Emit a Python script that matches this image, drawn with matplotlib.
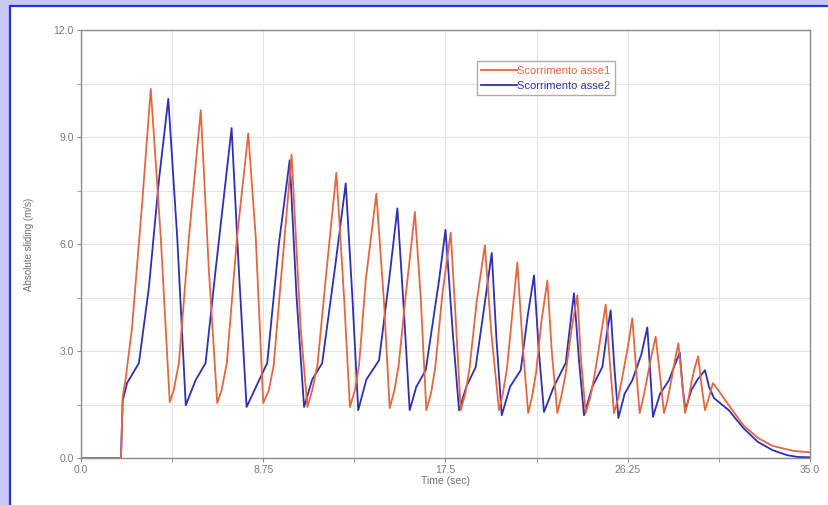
import matplotlib
matplotlib.use("Agg")
import matplotlib.pyplot as plt
from matplotlib.patches import Rectangle
from matplotlib.ticker import MultipleLocator, FixedLocator

# ---- data ----
t_asse1 = [0, 1.92, 2.0, 2.14, 2.45, 2.93, 3.35, 3.83, 4.26,
           4.45, 4.7, 5.18, 5.75, 6.14, 6.54,
           6.75, 7.0, 7.49, 8.03, 8.39, 8.75,
           9.02, 9.25, 9.6, 10.11, 10.55, 10.87,
           11.1, 11.35, 11.82, 12.26, 12.63, 12.91,
           13.15, 13.35, 13.67, 14.18, 14.55, 14.82,
           15.05, 15.25, 15.58, 16.03, 16.31, 16.58,
           16.8, 17.0, 17.35, 17.75, 18.0, 18.23,
           18.45, 18.65, 19.0, 19.39, 19.7, 20.07,
           20.25, 20.45, 20.7, 20.95, 21.2, 21.47,
           21.65, 21.85, 22.1, 22.39, 22.6, 22.87,
           23.05, 23.25, 23.55, 23.83, 24.0, 24.23,
           24.45, 24.65, 24.95, 25.19, 25.4, 25.59,
           25.8, 26.0, 26.25, 26.47, 26.65, 26.82,
           27.0, 27.2, 27.4, 27.59, 27.8, 27.99,
           28.15, 28.35, 28.5, 28.68, 28.85, 29.0,
           29.15, 29.3, 29.45, 29.63, 29.8, 29.96,
           30.15, 30.34, 30.6, 31.1, 31.8, 32.5, 33.2, 34.2, 35.0]
v_asse1 = [0, 0, 1.7, 2.2, 3.66, 7.1, 10.35, 6.18, 1.57,
           1.9, 2.66, 6.18, 9.75, 5.26, 1.54,
           1.9, 2.66, 6.18, 9.1, 6.18, 1.54,
           1.9, 2.6, 5.0, 8.5, 3.6, 1.43,
           1.9, 2.6, 5.45, 8.0, 4.5, 1.43,
           1.9, 2.6, 4.98, 7.41, 4.34, 1.4,
           1.9, 2.6, 4.5, 6.9, 4.5, 1.34,
           1.8, 2.5, 4.6, 6.32, 3.8, 1.34,
           1.8, 2.5, 4.4, 5.96, 3.5, 1.34,
           1.8, 2.5, 4.0, 5.48, 3.2, 1.26,
           1.7, 2.4, 3.8, 4.98, 3.0, 1.26,
           1.7, 2.3, 3.6, 4.56, 2.8, 1.26,
           1.7, 2.3, 3.4, 4.3, 2.6, 1.26,
           1.7, 2.3, 3.1, 3.92, 2.5, 1.26,
           1.7, 2.3, 2.9, 3.4, 2.3, 1.26,
           1.6, 2.2, 2.7, 3.22, 2.2, 1.26,
           1.6, 2.1, 2.5, 2.85, 2.0, 1.34,
           1.7, 2.1, 1.9, 1.48, 0.92, 0.56, 0.34, 0.2, 0.16]

t_asse2 = [0, 1.92, 2.0, 2.21, 2.78, 3.26, 3.74, 4.19, 4.62, 5.03,
           5.5, 5.98, 6.46, 7.23, 7.58, 7.95,
           8.55, 8.94, 9.5, 10.02, 10.35, 10.71,
           11.1, 11.58, 12.22, 12.71, 13.03, 13.31,
           13.7, 14.31, 14.79, 15.19, 15.51, 15.78,
           16.1, 16.55, 17.19, 17.5, 17.85, 18.15,
           18.5, 18.95, 19.4, 19.72, 19.95, 20.2,
           20.6, 21.11, 21.45, 21.75, 21.98, 22.23,
           22.7, 23.27, 23.5, 23.67, 23.9, 24.15,
           24.55, 25.03, 25.25, 25.43, 25.6, 25.8,
           26.1, 26.47, 26.9, 27.19, 27.33, 27.46,
           27.8, 28.23, 28.5, 28.75, 28.88, 29.02,
           29.3, 29.6, 29.96, 30.15, 30.39,
           31.1, 31.8, 32.5, 33.2, 33.9, 34.4, 35.0]
v_asse2 = [0, 0, 1.6, 2.1, 2.66, 4.78, 7.78, 10.07, 6.18, 1.48,
           2.18, 2.66, 5.26, 9.25, 5.26, 1.43,
           2.18, 2.66, 6.0, 8.35, 4.5, 1.43,
           2.2, 2.66, 5.45, 7.7, 4.5, 1.34,
           2.2, 2.74, 4.98, 7.0, 4.06, 1.34,
           2.0, 2.46, 4.98, 6.4, 3.5, 1.34,
           2.0, 2.55, 4.4, 5.75, 3.3, 1.2,
           2.0, 2.46, 4.0, 5.12, 3.0, 1.29,
           2.0, 2.66, 3.8, 4.62, 2.8, 1.2,
           2.0, 2.55, 3.5, 4.14, 2.6, 1.12,
           1.8, 2.18, 2.9, 3.66, 2.4, 1.15,
           1.8, 2.18, 2.6, 2.95, 2.0, 1.35,
           1.9, 2.2, 2.46, 2.0, 1.68,
           1.34, 0.84, 0.45, 0.22, 0.08, 0.03, 0.02]

series_labels = ["Scorrimento asse1", "Scorrimento asse2"]
x_ticks = [0, 8.75, 17.5, 26.25, 35.0]
x_tick_labels = ["0.0", "8.75", "17.5", "26.25", "35.0"]
y_ticks = [0, 3, 6, 9, 12]
y_tick_labels = ["0.0", "3.0", "6.0", "9.0", "12.0"]

# ---- figure ----
W, H = 829, 505
plt.rcParams['font.family'] = ['Liberation Sans', 'DejaVu Sans']
fig = plt.figure(figsize=(W / 100, H / 100), dpi=100, facecolor="#c9c9f7")

panel = Rectangle((10 / W, -0.02), 1.1, (H - 6) / H + 0.02, transform=fig.transFigure,
                  facecolor="white", edgecolor="#2d2de0", linewidth=1.6, zorder=-10)
fig.patches.append(panel)

ax = fig.add_axes([81 / W, (H - 458) / H, (810 - 81) / W, (458 - 30) / H])
ax.set_zorder(1)
ax.set_facecolor("white")

c1 = "#e5673f"
c2 = "#2f2fb5"
ax.plot(t_asse1, v_asse1, color=c1, lw=1.3, label=series_labels[0], zorder=3,
        solid_joinstyle="round")
ax.plot(t_asse2, v_asse2, color=c2, lw=1.3, label=series_labels[1], zorder=2,
        solid_joinstyle="round")

ax.set_xlim(0, 35)
ax.set_ylim(0, 12)
ax.xaxis.set_major_locator(FixedLocator(x_ticks))
ax.set_xticklabels(x_tick_labels)
ax.xaxis.set_minor_locator(MultipleLocator(4.375))
ax.yaxis.set_major_locator(FixedLocator(y_ticks))
ax.set_yticklabels(y_tick_labels)
ax.yaxis.set_minor_locator(MultipleLocator(1.5))

ax.grid(True, which="both", color="#e4e4e4", lw=0.8, zorder=0)
ax.set_axisbelow(True)
for s in ax.spines.values():
    s.set_color("#8c8c8c")
    s.set_linewidth(1.0)
ax.tick_params(which="both", direction="out", length=3, color="#8c8c8c",
               labelsize=7.5, labelcolor="#7a7a7a", pad=2)

ax.set_xlabel("Time (sec)", fontsize=7.5, color="#707070", labelpad=1)
ax.set_ylabel("Absolute sliding (m/s)", fontsize=7, color="#707070", labelpad=14)

leg = ax.legend(loc="upper left", bbox_to_anchor=(0.543, 0.927), fontsize=8,
                frameon=True, fancybox=False, handlelength=3.2, handletextpad=0.0,
                borderpad=0.4, labelspacing=0.45, borderaxespad=0,
                labelcolor="linecolor")
leg.get_frame().set_edgecolor("#999999")
leg.get_frame().set_linewidth(1.0)

fig.savefig("out.png", dpi=100, facecolor=fig.get_facecolor())
